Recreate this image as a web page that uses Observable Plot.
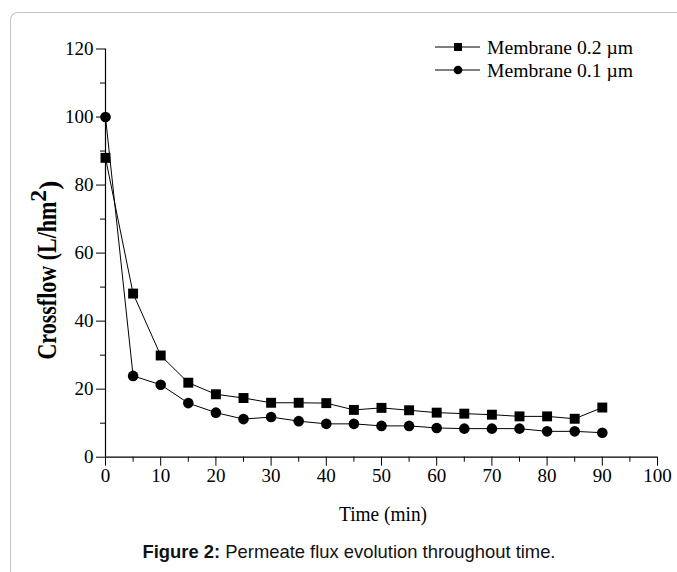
<!DOCTYPE html>
<html>
<head>
<meta charset="utf-8">
<script src="https://cdn.jsdelivr.net/npm/d3@7"></script>
<script src="https://cdn.jsdelivr.net/npm/@observablehq/plot@0.6"></script>
<style>
  html, body { margin: 0; padding: 0; background: #fff; }
  #wrap { position: relative; width: 677px; height: 572px; overflow: hidden; }
  #frame { position: absolute; left: 10px; top: 12px; width: 720px; height: 620px;
           border-left: 1px solid #c4c4c4; border-top: 1px solid #c4c4c4; border-top-left-radius: 8px; }
  #chart { position: absolute; left: 0; top: 0; }
  #caption { position: absolute; left: 0; width: 698px; top: 541px; text-align: center; white-space: nowrap;
             font-family: "Liberation Sans", Arial, sans-serif; font-size: 18.4px; color: #111; }
</style>
</head>
<body>
<div id="wrap">
  <div id="frame"></div>
  <div id="chart"></div>
  <div id="caption"><b>Figure 2:</b> Permeate flux evolution throughout time.</div>
</div>
<script>
// Data
const time   = [0, 5, 10, 15, 20, 25, 30, 35, 40, 45, 50, 55, 60, 65, 70, 75, 80, 85, 90];
const flux02 = [88, 48.1, 29.9, 21.9, 18.5, 17.4, 16.0, 16.0, 15.9, 13.9, 14.5, 13.8, 13.1, 12.8, 12.5, 12.0, 12.0, 11.3, 14.6];
const flux01 = [100, 23.9, 21.3, 15.9, 13.1, 11.2, 11.8, 10.6, 9.8, 9.8, 9.2, 9.2, 8.6, 8.4, 8.4, 8.4, 7.6, 7.6, 7.2];
const seriesNames = ["Membrane 0.2 \u00b5m", "Membrane 0.1 \u00b5m"];
const xMajorTicks = [0, 10, 20, 30, 40, 50, 60, 70, 80, 90, 100];
const xMinorTicks = [5, 15, 25, 35, 45, 55, 65, 75, 85, 95];
const yMajorTicks = [0, 20, 40, 60, 80, 100, 120];
const yMinorTicks = [10, 30, 50, 70, 90, 110];

const d02 = time.map((t, i) => ({t, v: flux02[i]}));
const d01 = time.map((t, i) => ({t, v: flux01[i]}));

const chart = Plot.plot({
  width: 677,
  height: 530,
  marginLeft: 105,
  marginRight: 20,
  marginTop: 48.5,
  marginBottom: 73.3,
  style: {fontFamily: "Liberation Serif, 'Times New Roman', serif", fontSize: "19px", color: "black", background: "transparent", overflow: "visible"},
  x: {domain: [0, 100]},
  y: {domain: [0, 120]},
  marks: [
    Plot.axisX({ticks: xMajorTicks, tickSize: 9, tickPadding: 2, label: null}),
    Plot.axisX({ticks: xMinorTicks, tickSize: 5, text: null, label: null}),
    Plot.axisY({ticks: yMajorTicks, tickSize: 9, tickPadding: 3, label: null}),
    Plot.axisY({ticks: yMinorTicks, tickSize: 5, text: null, label: null}),
    Plot.ruleX([0], {stroke: "black", strokeWidth: 1.2}),
    Plot.ruleY([0], {stroke: "black", strokeWidth: 1.2}),
    Plot.line(d02, {x: "t", y: "v", stroke: "black", strokeWidth: 1}),
    Plot.line(d01, {x: "t", y: "v", stroke: "black", strokeWidth: 1}),
    Plot.dot(d02, {x: "t", y: "v", symbol: "square", fill: "black", r: 5.6}),
    Plot.dot(d01, {x: "t", y: "v", symbol: "circle", fill: "black", r: 5.3})
  ]
});
document.getElementById("chart").append(chart);

const svg = d3.select(chart);

// X-axis title
svg.append("text")
  .attr("x", 383).attr("y", 521)
  .attr("text-anchor", "middle")
  .attr("font-size", 20)
  .attr("textLength", 88).attr("lengthAdjust", "spacingAndGlyphs")
  .attr("fill", "black")
  .text("Time (min)");

// Y-axis title with superscript
const yl = svg.append("text")
  .attr("transform", "translate(56,270) rotate(-90)")
  .attr("text-anchor", "middle")
  .attr("font-weight", "bold")
  .attr("font-size", 28)
  .attr("fill", "black");
yl.append("tspan").attr("textLength", 158).attr("lengthAdjust", "spacingAndGlyphs").text("Crossflow (L/hm");
yl.append("tspan").attr("dy", "-0.42em").attr("font-size", "0.85em").text("2");
yl.append("tspan").attr("dy", "0.42em").text(")");

// Legend
const leg = svg.append("g").attr("text-anchor", "start");
const symbols = [d3.symbolSquare, d3.symbolCircle];
const sizes = [64, 60];
seriesNames.forEach((name, i) => {
  const y = 47 + i * 23;
  leg.append("line").attr("x1", 435).attr("x2", 480).attr("y1", y).attr("y2", y).attr("stroke", "black");
  leg.append("path").attr("d", d3.symbol(symbols[i], sizes[i])()).attr("transform", `translate(458,${y})`).attr("fill", "black");
  leg.append("text").attr("x", 487).attr("y", y).attr("dy", "0.35em").attr("font-size", 19)
     .attr("textLength", 146).attr("lengthAdjust", "spacingAndGlyphs").attr("fill", "black").text(name);
});
</script>
</body>
</html>
